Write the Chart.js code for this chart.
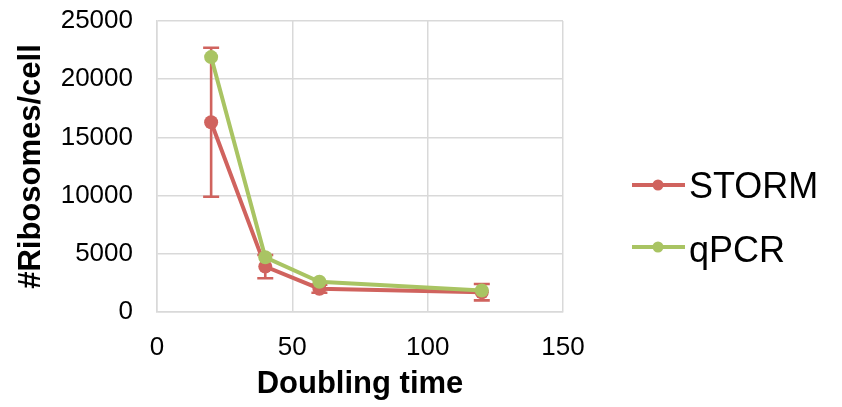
<!DOCTYPE html>
<html>
<head>
<meta charset="utf-8">
<script src="https://cdn.jsdelivr.net/npm/chart.js@4/dist/chart.umd.min.js"></script>
<style>
  html, body { margin: 0; padding: 0; background: #fff; }
  #wrap { width: 842px; height: 407px; position: relative; }
</style>
</head>
<body>
<div id="wrap"><canvas id="c" width="842" height="407"></canvas></div>
<script>
// ---- data ----
const doublingTimes = [20, 40, 60, 120];
const stormValues = [16300, 3900, 2000, 1700];
const stormErrors = [6400, 1000, 350, 700];
const qpcrValues = [21900, 4700, 2600, 1850];
const seriesNames = ['STORM', 'qPCR'];
const xTicks = [0, 50, 100, 150];
const yTicks = [0, 5000, 10000, 15000, 20000, 25000];

const RED = '#D0635E';
const GREEN = '#A9C463';
const FONT = "'Liberation Sans', Arial, sans-serif";

const errorBarPlugin = {
  id: 'errorBars',
  beforeDatasetsDraw(chart) {
    const ctx = chart.ctx;
    const xs = chart.scales.x, ys = chart.scales.y;
    ctx.save();
    ctx.strokeStyle = RED;
    ctx.lineWidth = 2.6;
    const cap = 8;
    doublingTimes.forEach((t, i) => {
      const x = xs.getPixelForValue(t);
      const yTop = ys.getPixelForValue(stormValues[i] + stormErrors[i]);
      const yBot = ys.getPixelForValue(stormValues[i] - stormErrors[i]);
      ctx.beginPath();
      ctx.moveTo(x, yTop); ctx.lineTo(x, yBot);
      ctx.moveTo(x - cap, yTop); ctx.lineTo(x + cap, yTop);
      ctx.moveTo(x - cap, yBot); ctx.lineTo(x + cap, yBot);
      ctx.stroke();
    });
    ctx.restore();
  }
};

const legendPlugin = {
  id: 'customLegend',
  afterDraw(chart) {
    const ctx = chart.ctx;
    const rows = [
      { ds: chart.data.datasets[0], y: 185, ty: 188 },
      { ds: chart.data.datasets[1], y: 247, ty: 252 }
    ];
    ctx.save();
    rows.forEach(r => {
      ctx.strokeStyle = r.ds.borderColor;
      ctx.lineWidth = 4;
      ctx.beginPath();
      ctx.moveTo(632, r.y); ctx.lineTo(685, r.y);
      ctx.stroke();
      ctx.fillStyle = r.ds.backgroundColor;
      ctx.beginPath();
      ctx.arc(658, r.y, 5.5, 0, Math.PI * 2);
      ctx.fill();
      ctx.fillStyle = '#000';
      ctx.font = '36px ' + FONT;
      ctx.textBaseline = 'middle';
      ctx.textAlign = 'left';
      ctx.fillText(r.ds.label, 689, r.ty);
    });
    ctx.restore();
  }
};

new Chart(document.getElementById('c'), {
  type: 'line',
  data: {
    datasets: [
      {
        label: seriesNames[0],
        data: doublingTimes.map((t, i) => ({ x: t, y: stormValues[i] })),
        borderColor: RED, backgroundColor: RED,
        borderWidth: 4, pointRadius: 7, pointHoverRadius: 7,
        pointBorderWidth: 0, tension: 0, order: 1
      },
      {
        label: seriesNames[1],
        data: doublingTimes.map((t, i) => ({ x: t, y: qpcrValues[i] })),
        borderColor: GREEN, backgroundColor: GREEN,
        borderWidth: 4, pointRadius: 7, pointHoverRadius: 7,
        pointBorderWidth: 0, tension: 0, order: 0
      }
    ]
  },
  options: {
    responsive: false,
    animation: false,
    layout: { padding: { top: 21, right: 279, left: 0, bottom: 0 } },
    plugins: { legend: { display: false }, tooltip: { enabled: false } },
    scales: {
      x: {
        type: 'linear', min: 0, max: 150,
        afterBuildTicks(s) { s.ticks = xTicks.map(v => ({ value: v })); },
        afterFit(s) { s.height = 95; s.paddingLeft = 0; s.paddingRight = 0; },
        grid: { color: '#D9D9D9', lineWidth: 1.5, drawTicks: false },
        border: { color: '#D9D9D9', width: 1.5 },
        ticks: { color: '#000', padding: 20, font: { family: FONT, size: 26 } },
        title: { display: true, text: 'Doubling time', color: '#000',
                 font: { family: FONT, size: 31, weight: 'bold' }, padding: { top: 0, bottom: 4 } }
      },
      y: {
        min: 0, max: 25000,
        afterBuildTicks(s) { s.ticks = yTicks.map(v => ({ value: v })); },
        afterFit(s) { s.width = 157; s.paddingTop = 0; s.paddingBottom = 0; },
        grid: { color: '#D9D9D9', lineWidth: 1.5, drawTicks: false },
        border: { color: '#D9D9D9', width: 1.5 },
        ticks: { color: '#000', padding: 24, font: { family: FONT, size: 26 },
                 callback: v => String(v) },
        title: { display: true, text: '#Ribosomes/cell', color: '#000',
                 font: { family: FONT, size: 31, weight: 'bold' }, padding: { top: 13, bottom: 0 } }
      }
    }
  },
  plugins: [errorBarPlugin, legendPlugin]
});
</script>
</body>
</html>
